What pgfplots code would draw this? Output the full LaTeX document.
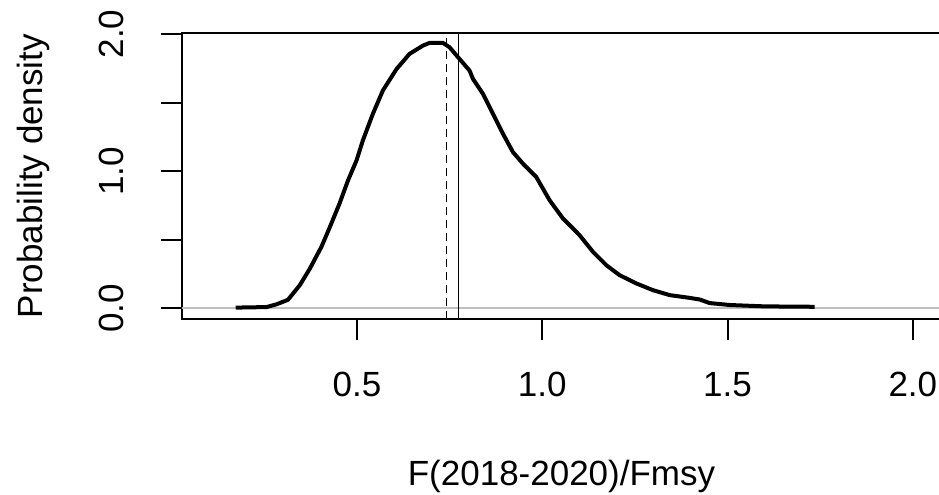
\documentclass[border=0pt]{standalone}
\usepackage{fontspec}
\setmainfont{Liberation Sans}
\usepackage{pgfplots}
\pgfplotsset{compat=1.18}
\definecolor{rgrey}{RGB}{190,190,190}
\begin{document}
\begin{tikzpicture}
\begin{axis}[
  scale only axis, width=379.5pt, height=143pt,
  xmin=0.028, xmax=2.076, ymin=-0.077, ymax=2.007,
  axis line style={line width=1pt},
  tick style={line width=1pt, black},
  tick align=outside, major tick length=10.5pt,
  xtick pos=bottom, ytick pos=left,
  xtick={0.5,1,1.5,2}, xticklabels={0.5,1.0,1.5,2.0},
  ytick={0,0.5,1,1.5,2}, yticklabels={0.0,,1.0,,2.0},
  font=\fontsize{17.5}{21}\selectfont,
  xticklabel style={anchor=center, yshift=-22.25pt},
  yticklabel style={xshift=-25pt, rotate=90, anchor=center},
  xlabel={F(2018-2020)/Fmsy},
  ylabel={Probability density},
  xlabel style={at={(axis description cs:0.5,0)}, anchor=base, yshift=-83pt},
  ylabel style={at={(axis description cs:0,0.5)}, anchor=base, yshift=69.5pt},
]
\addplot[rgrey, line width=1pt] coordinates {(0,0) (2.1,0)};
\addplot[black, line width=2pt, line join=round] coordinates {
(0.173,0.006) (0.256,0.01) (0.283,0.03) (0.314,0.063) (0.346,0.17)
(0.373,0.29) (0.404,0.448) (0.427,0.593) (0.453,0.764) (0.476,0.933)
(0.499,1.079) (0.516,1.224) (0.543,1.418) (0.570,1.588) (0.607,1.745)
(0.642,1.855) (0.678,1.915) (0.696,1.935) (0.732,1.935) (0.750,1.903)
(0.773,1.830) (0.804,1.733) (0.813,1.673) (0.840,1.564) (0.867,1.418)
(0.894,1.273) (0.921,1.139) (0.948,1.055) (0.984,0.957) (1.020,0.788)
(1.056,0.655) (1.088,0.569) (1.101,0.533) (1.137,0.412) (1.173,0.315)
(1.209,0.242) (1.254,0.182) (1.299,0.133) (1.344,0.097) (1.398,0.077)
(1.425,0.065) (1.452,0.039) (1.506,0.025) (1.600,0.015) (1.735,0.012)
};
\addplot[black, line width=0.9pt, dash pattern=on 4pt off 2.5pt] coordinates {(0.7415,-0.077) (0.7415,2.007)};
\addplot[black, line width=0.9pt] coordinates {(0.774,-0.077) (0.774,2.007)};
\end{axis}
\pgfresetboundingbox
\path[use as bounding box] ([shift={(-91pt,-87.5pt)}]current axis.south west) rectangle ++(469.5pt,247pt);
\end{tikzpicture}
\end{document}
